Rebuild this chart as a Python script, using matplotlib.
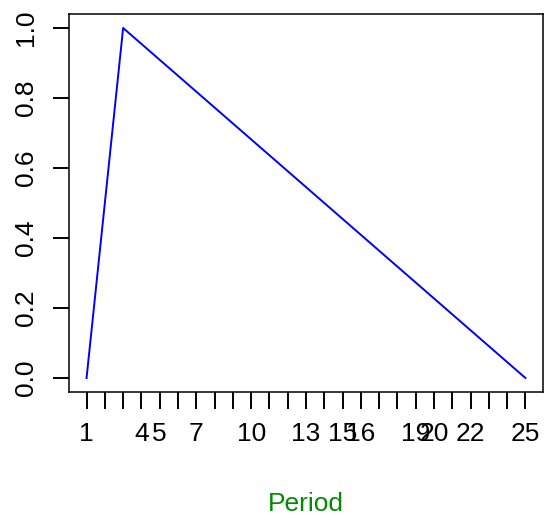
import matplotlib
matplotlib.use("Agg")
import matplotlib.pyplot as plt

plt.rcParams['font.family'] = ['Liberation Sans', 'DejaVu Sans']

# Data
periods = [1, 3, 25]
values = [0.0, 1.0, 0.0]
tick_positions = list(range(1, 26))
shown_labels = [1, 4, 5, 7, 10, 13, 15, 16, 19, 20, 22, 25]
y_ticks = [0.0, 0.2, 0.4, 0.6, 0.8, 1.0]

fig = plt.figure(figsize=(5.44, 5.21), dpi=100)
ax = fig.add_axes([69 / 544, (521 - 392) / 521, (543 - 69) / 544, (392 - 14) / 521])

ax.plot(periods, values, color='blue', linewidth=1.4)

ax.set_xlim(0.04, 25.96)
ax.set_ylim(-0.04, 1.04)

ax.set_xticks(tick_positions)
ax.set_xticklabels([str(p) if p in shown_labels else '' for p in tick_positions])
ax.set_yticks(y_ticks)
ax.set_yticklabels(['%.1f' % v for v in y_ticks], rotation=90, va='center')

ax.tick_params(axis='x', length=12.5, width=1.4, pad=9, labelsize=19)
ax.tick_params(axis='y', length=11.5, width=1.4, pad=11, labelsize=19)
for s in ax.spines.values():
    s.set_linewidth(1.1)

fig.text(306 / 544, (521 - 504) / 521, 'Period', color='#008B00',
         fontsize=19, ha='center', va='center')

fig.savefig('out.png', dpi=100)
